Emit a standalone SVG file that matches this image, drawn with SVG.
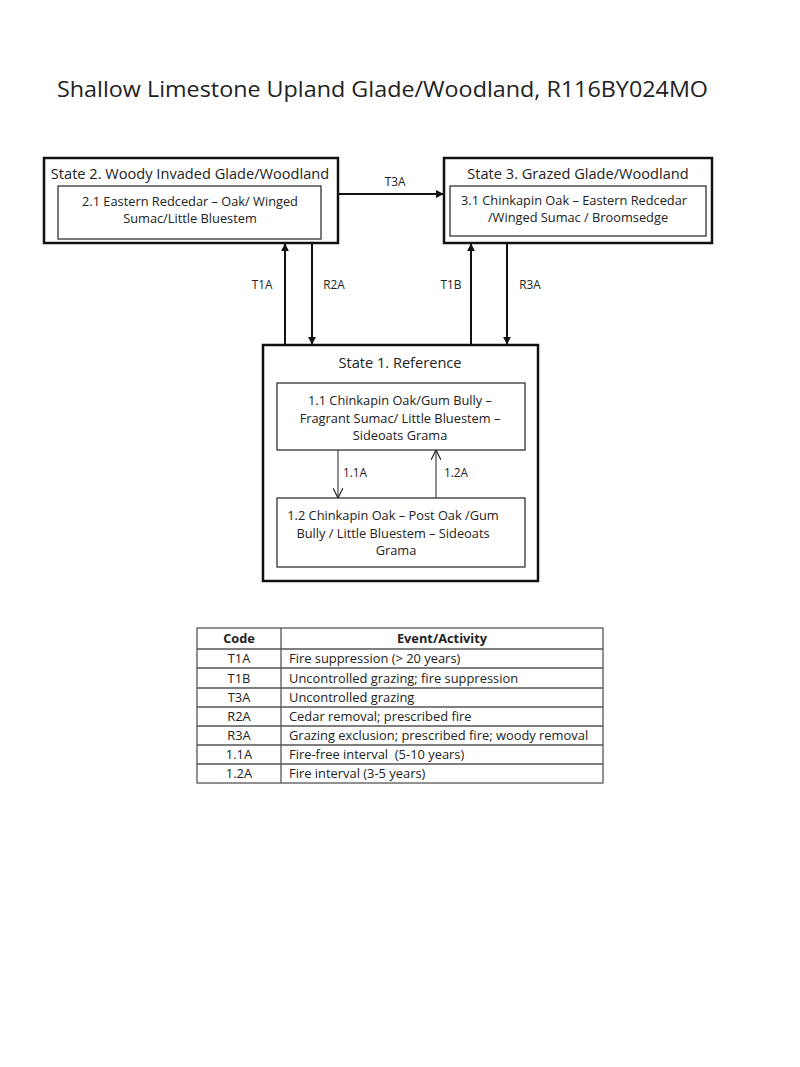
<svg xmlns="http://www.w3.org/2000/svg" width="800" height="1067" viewBox="0 0 800 1067">
<style>
text{font-family:"Open Sans","Liberation Sans",sans-serif;fill:#222}
.title{font-size:22px}
.st{font-size:14.6px}
.sub{font-size:12.8px}
.lab{font-size:11.8px}
.outer{fill:#fff;stroke:#111;stroke-width:2.5}
.inner{fill:#fff;stroke:#222;stroke-width:1.2}
.c{stroke:#111;stroke-width:2;fill:none}
.thin{stroke:#222;stroke-width:1;fill:none}
.tb{stroke:#555;stroke-width:1.3;fill:none}
.th{font-size:12.8px;font-weight:bold}
.td{font-size:12.9px}
</style>
<defs>
<marker id="ah" viewBox="0 0 10 10" refX="9" refY="5" markerWidth="4" markerHeight="4" orient="auto"><path d="M0,0L10,5L0,10z" fill="#111"/></marker>
<marker id="oh" viewBox="0 0 10 10" refX="9" refY="5" markerWidth="10" markerHeight="10" markerUnits="userSpaceOnUse" orient="auto"><path d="M0,0L10,5L0,10" fill="none" stroke="#222" stroke-width="1.2"/></marker>
</defs>
<rect width="800" height="1067" fill="#fff"/>
<text class="title" x="57" y="97" textLength="651" lengthAdjust="spacingAndGlyphs">Shallow Limestone Upland Glade/Woodland, R116BY024MO</text>

<g id="state2">
<rect class="outer" x="44" y="158" width="294" height="85"/>
<text class="st" x="190" y="179" text-anchor="middle">State 2. Woody Invaded Glade/Woodland</text>
<rect class="inner" x="58" y="186" width="263" height="53"/>
<text class="sub" x="190" y="206" text-anchor="middle">2.1 Eastern Redcedar – Oak/ Winged</text>
<text class="sub" x="190" y="223" text-anchor="middle">Sumac/Little Bluestem</text>
</g>

<g id="state3">
<rect class="outer" x="444" y="158" width="268" height="85"/>
<text class="st" x="578" y="179" text-anchor="middle">State 3. Grazed Glade/Woodland</text>
<rect class="inner" x="450" y="186" width="256" height="50"/>
<text class="sub" x="574" y="205" text-anchor="middle">3.1 Chinkapin Oak – Eastern Redcedar</text>
<text class="sub" x="578" y="222" text-anchor="middle">/Winged Sumac / Broomsedge</text>
</g>

<g id="state1">
<rect class="outer" x="263" y="345" width="275" height="236"/>
<text class="st" x="400" y="368" text-anchor="middle">State 1. Reference</text>
<g id="p11">
<rect class="inner" x="277" y="383" width="248" height="67"/>
<text class="sub" x="400" y="405" text-anchor="middle">1.1 Chinkapin Oak/Gum Bully –</text>
<text class="sub" x="400" y="423" text-anchor="middle">Fragrant Sumac/ Little Bluestem –</text>
<text class="sub" x="400" y="440" text-anchor="middle">Sideoats Grama</text>
</g>
<g id="p12">
<rect class="inner" x="277" y="498" width="248" height="69"/>
<text class="sub" x="393" y="520" text-anchor="middle">1.2 Chinkapin Oak – Post Oak /Gum</text>
<text class="sub" x="393" y="538" text-anchor="middle">Bully / Little Bluestem – Sideoats</text>
<text class="sub" x="396" y="555" text-anchor="middle">Grama</text>
</g>
</g>

<g id="connectors">
<line class="c" x1="338" y1="194" x2="443" y2="194" marker-end="url(#ah)"/>
<text class="lab" x="395" y="186" text-anchor="middle">T3A</text>
<line class="c" x1="285" y1="345" x2="285" y2="244" marker-end="url(#ah)"/>
<text class="lab" x="262" y="289" text-anchor="middle">T1A</text>
<line class="c" x1="312" y1="243" x2="312" y2="344" marker-end="url(#ah)"/>
<text class="lab" x="334" y="289" text-anchor="middle">R2A</text>
<line class="c" x1="471" y1="345" x2="471" y2="244" marker-end="url(#ah)"/>
<text class="lab" x="451" y="289" text-anchor="middle">T1B</text>
<line class="c" x1="507" y1="243" x2="507" y2="344" marker-end="url(#ah)"/>
<text class="lab" x="530" y="289" text-anchor="middle">R3A</text>
<line class="thin" x1="338" y1="450" x2="338" y2="497" marker-end="url(#oh)"/>
<text class="lab" x="355" y="477" text-anchor="middle">1.1A</text>
<line class="thin" x1="436" y1="498" x2="436" y2="451" marker-end="url(#oh)"/>
<text class="lab" x="456" y="477" text-anchor="middle">1.2A</text>
</g>

<g id="table">
<rect class="tb" x="197" y="628" width="406" height="155"/>
<line class="tb" x1="281" y1="628" x2="281" y2="783"/>
<line class="tb" x1="197" y1="649" x2="603" y2="649"/>
<line class="tb" x1="197" y1="668" x2="603" y2="668"/>
<line class="tb" x1="197" y1="688" x2="603" y2="688"/>
<line class="tb" x1="197" y1="707" x2="603" y2="707"/>
<line class="tb" x1="197" y1="726" x2="603" y2="726"/>
<line class="tb" x1="197" y1="745" x2="603" y2="745"/>
<line class="tb" x1="197" y1="764" x2="603" y2="764"/>
<text class="th" x="239" y="643" text-anchor="middle">Code</text>
<text class="th" x="442" y="643" text-anchor="middle">Event/Activity</text>
<text class="td" x="239" y="663" text-anchor="middle">T1A</text>
<text class="td" x="289" y="663">Fire suppression (&gt; 20 years)</text>
<text class="td" x="239" y="683" text-anchor="middle">T1B</text>
<text class="td" x="289" y="683">Uncontrolled grazing; fire suppression</text>
<text class="td" x="239" y="702" text-anchor="middle">T3A</text>
<text class="td" x="289" y="702">Uncontrolled grazing</text>
<text class="td" x="239" y="721" text-anchor="middle">R2A</text>
<text class="td" x="289" y="721">Cedar removal; prescribed fire</text>
<text class="td" x="239" y="740" text-anchor="middle">R3A</text>
<text class="td" x="289" y="740">Grazing exclusion; prescribed fire; woody removal</text>
<text class="td" x="239" y="759" text-anchor="middle">1.1A</text>
<text class="td" x="289" y="759">Fire-free interval &#160;(5-10 years)</text>
<text class="td" x="239" y="778" text-anchor="middle">1.2A</text>
<text class="td" x="289" y="778">Fire interval (3-5 years)</text>
</g>
</svg>
